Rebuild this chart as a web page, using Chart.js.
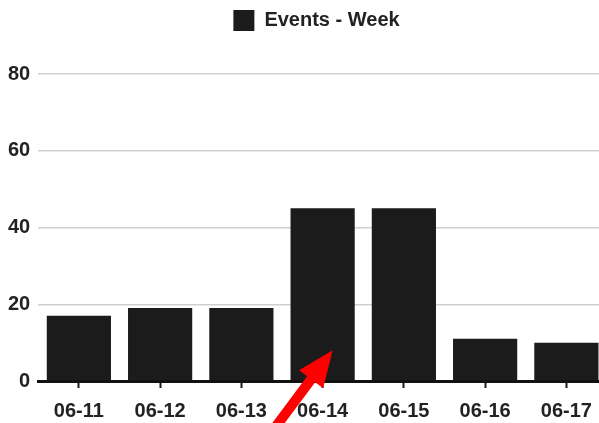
<!DOCTYPE html>
<html>
<head>
<meta charset="utf-8">
<script src="https://cdn.jsdelivr.net/npm/chart.js@4/dist/chart.umd.min.js"></script>
<style>
  html, body { margin: 0; padding: 0; background: #fff; overflow: hidden; }
  #wrap { width: 599px; height: 423px; overflow: hidden; position: relative; }
  #box { width: 607px; height: 434px; position: absolute; left: 0; top: 0; }
</style>
</head>
<body>
<div id="wrap"><div id="box"><canvas id="c"></canvas></div></div>
<script>
const categories = ['06-11', '06-12', '06-13', '06-14', '06-15', '06-16', '06-17'];
const seriesName = 'Events - Week';
const eventsWeek = [17, 19, 19, 45, 45, 11, 10];
const yTicks = [0, 20, 40, 60, 80];

const textColor = '#222222';
const fontFamily = '"Liberation Sans", Arial, Helvetica, sans-serif';

const legendGap = {
  id: 'legendGap',
  beforeInit(chart) {
    const lg = chart.legend;
    const origFit = lg.fit;
    lg.fit = function () {
      origFit.call(this);
      this.height += 33;
    };
    const origDraw = lg.draw;
    lg.draw = function () {
      const ctx = this.ctx;
      ctx.save();
      ctx.translate(13, 0);
      origDraw.call(this);
      ctx.restore();
    };
  }
};

const arrowPlugin = {
  id: 'arrowNote',
  afterDraw(chart) {
    const x = chart.scales.x, y = chart.scales.y;
    const ctx = chart.ctx;
    const tipX = x.getPixelForValue(3) + 10;
    const tipY = y.getPixelForValue(8);
    const tailX = tipX - 58, tailY = tipY + 78;
    const dx = tipX - tailX, dy = tipY - tailY;
    const len = Math.hypot(dx, dy);
    const ux = dx / len, uy = dy / len;
    const px = -uy, py = ux;
    const headLen = 36, headHalf = 15, shaftHalf = 5;
    const bx = tipX - ux * headLen, by = tipY - uy * headLen;
    ctx.save();
    ctx.fillStyle = '#ff0000';
    ctx.beginPath();
    ctx.moveTo(tailX + px * shaftHalf, tailY + py * shaftHalf);
    ctx.lineTo(bx + px * shaftHalf, by + py * shaftHalf);
    ctx.lineTo(bx + px * headHalf, by + py * headHalf);
    ctx.lineTo(tipX, tipY);
    ctx.lineTo(bx - px * headHalf, by - py * headHalf);
    ctx.lineTo(bx - px * shaftHalf, by - py * shaftHalf);
    ctx.lineTo(tailX - px * shaftHalf, tailY - py * shaftHalf);
    ctx.closePath();
    ctx.fill();
    ctx.restore();
  }
};

new Chart(document.getElementById('c'), {
  type: 'bar',
  data: {
    labels: categories,
    datasets: [{
      label: seriesName,
      data: eventsWeek,
      backgroundColor: '#1b1b1b',
      borderWidth: 0,
      barPercentage: 0.79,
      categoryPercentage: 1.0
    }]
  },
  options: {
    responsive: true,
    maintainAspectRatio: false,
    animation: false,
    layout: { padding: { left: 0, right: 0, top: 0, bottom: 0 } },
    plugins: {
      legend: {
        display: true,
        position: 'top',
        labels: {
          color: textColor,
          font: { family: fontFamily, size: 20, weight: 'bold' },
          boxWidth: 21,
          boxHeight: 21,
          padding: 10
        }
      },
      tooltip: { enabled: false }
    },
    scales: {
      x: {
        grid: {
          display: true,
          offset: false,
          drawOnChartArea: false,
          drawTicks: true,
          tickLength: 7,
          tickWidth: 2,
          tickColor: '#1b1b1b'
        },
        border: { display: true, color: '#111111', width: 3 },
        ticks: {
          color: textColor,
          font: { family: fontFamily, size: 20, weight: 'bold' },
          padding: 11,
          maxRotation: 0,
          autoSkip: false
        }
      },
      y: {
        min: 0,
        max: 80,
        afterBuildTicks(axis) { axis.ticks = yTicks.map(v => ({ value: v })); },
        grid: {
          color: '#cfcfcf',
          lineWidth: 1.5,
          drawTicks: false
        },
        border: { display: false },
        ticks: {
          color: textColor,
          font: { family: fontFamily, size: 20, weight: 'bold' },
          padding: 8
        }
      }
    }
  },
  plugins: [legendGap, arrowPlugin]
});
</script>
</body>
</html>
